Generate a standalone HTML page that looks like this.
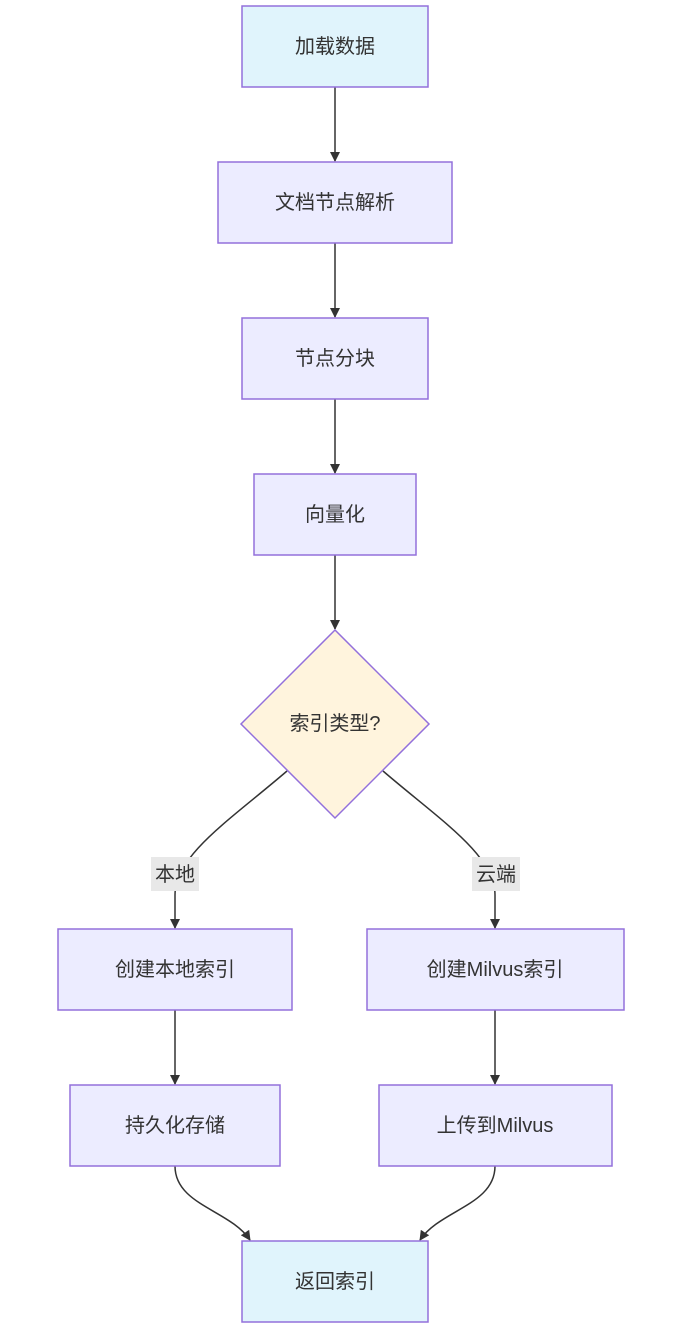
<!DOCTYPE html>
<html><head><meta charset="utf-8"><style>
body{margin:0;background:#fff;width:681px;height:1337px;overflow:hidden}
text{font-family:"Liberation Sans","Noto Sans CJK SC",sans-serif;font-size:20px;fill:#333}
</style></head><body>
<svg width="681" height="1337" xmlns="http://www.w3.org/2000/svg">
<defs><marker id="a" markerWidth="10" markerHeight="10" refX="9" refY="5" orient="auto" markerUnits="userSpaceOnUse"><path d="M0,0 L10,5 L0,10 z" fill="#333"/></marker></defs>
<g stroke="#333" stroke-width="1.5" fill="none" marker-end="url(#a)">
<path d="M335,87 L335,161"/>
<path d="M335,243 L335,317"/>
<path d="M335,399 L335,473"/>
<path d="M335,555 L335,629"/>
<path d="M287,771 C230,820 175,855 175,895 L175,928"/>
<path d="M383,771 C440,820 495,855 495,895 L495,928"/>
<path d="M175,1010 L175,1084"/>
<path d="M495,1010 L495,1084"/>
<path d="M175,1166 C175,1205 230,1210 250,1240"/>
<path d="M495,1166 C495,1205 440,1210 420,1240"/>
</g>
<g stroke="#9370db" stroke-width="1.5">
<rect x="242" y="6" width="186" height="81" fill="#e0f4fc"/>
<rect x="218" y="162" width="234" height="81" fill="#ececff"/>
<rect x="242" y="318" width="186" height="81" fill="#ececff"/>
<rect x="254" y="474" width="162" height="81" fill="#ececff"/>
<polygon points="335,630 429,724 335,818 241,724" fill="#fff4dd"/>
<rect x="58" y="929" width="234" height="81" fill="#ececff"/>
<rect x="367" y="929" width="257" height="81" fill="#ececff"/>
<rect x="70" y="1085" width="210" height="81" fill="#ececff"/>
<rect x="379" y="1085" width="233" height="81" fill="#ececff"/>
<rect x="242" y="1241" width="186" height="81" fill="#e0f4fc"/>
</g>
<rect x="151" y="857" width="48" height="34" fill="#e8e8e8"/>
<rect x="472" y="857" width="48" height="34" fill="#e8e8e8"/>
<g text-anchor="middle" dominant-baseline="central">
<text x="335" y="47">加载数据</text>
<text x="335" y="203">文档节点解析</text>
<text x="335" y="359">节点分块</text>
<text x="335" y="515">向量化</text>
<text x="335" y="724">索引类型?</text>
<text x="175" y="875">本地</text>
<text x="496" y="875">云端</text>
<text x="175" y="970">创建本地索引</text>
<text x="495" y="970">创建Milvus索引</text>
<text x="175" y="1126">持久化存储</text>
<text x="495" y="1126">上传到Milvus</text>
<text x="335" y="1282">返回索引</text>
</g>
</svg>
</body></html>
